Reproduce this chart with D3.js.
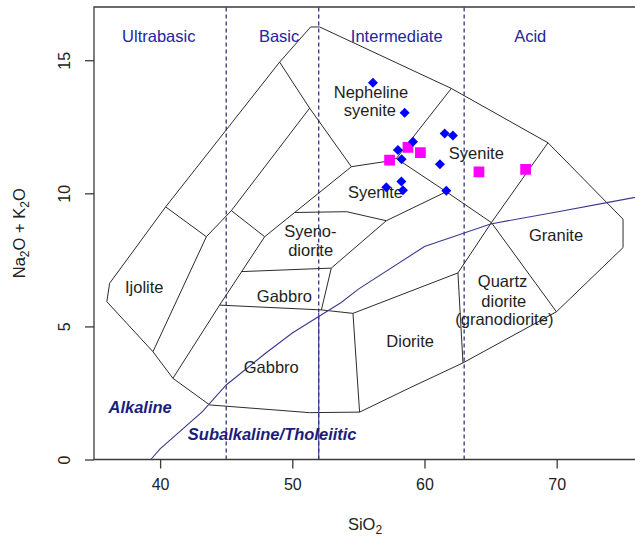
<!DOCTYPE html>
<html>
<head>
<meta charset="utf-8">
<script src="https://cdn.jsdelivr.net/npm/d3@7"></script>
<style>
  body { margin: 0; background: #fff; }
  svg { display: block; font-family: "Liberation Sans", Arial, sans-serif; }
</style>
</head>
<body>
<svg width="635" height="538"></svg>
<script>
// ---- data (SiO2 wt%, Na2O+K2O wt%) ----
var xTicks = [40, 50, 60, 70];
var yTicks = [0, 5, 10, 15];

// silica class limits (dashed)
var classLimits = [45, 52, 63];
var classNames = ["Ultrabasic", "Basic", "Intermediate", "Acid"];
var classX = [39.9, 49.0, 57.9, 68.0];
var classY = 15.68;

// outer outline of the plutonic TAS fields
var outline = [
    [51.39, 16.25], [52.07, 16.25], [62.03, 13.94], [69.34, 11.90], [75.02, 9.03],
    [75.02, 7.96], [69.98, 5.55], [62.91, 3.63], [58.88, 2.69], [55.09, 1.78],
    [51.31, 1.76], [43.75, 2.05], [40.97, 3.05], [39.46, 4.05], [35.97, 5.93],
    [36.18, 6.62], [40.42, 9.49], [49.04, 14.93], [51.39, 16.25]
];

// inner field boundaries
var fieldLines = [
    [[49.04, 14.93], [51.31, 13.20], [54.47, 11.00]],
    [[51.31, 13.20], [45.39, 9.35], [43.50, 8.37], [39.46, 4.05]],
    [[40.42, 9.49], [43.50, 8.37]],
    [[45.39, 9.35], [47.91, 8.37]],
    [[54.47, 11.00], [50.18, 9.28], [47.91, 8.37], [44.50, 5.80], [40.97, 3.05]],
    [[46.17, 7.06], [52.95, 7.19]],
    [[52.95, 7.19], [52.20, 5.62]],
    [[44.50, 5.80], [52.20, 5.62], [54.59, 5.49]],
    [[54.59, 5.49], [55.09, 1.78]],
    [[54.59, 5.49], [62.53, 7.01]],
    [[62.53, 7.01], [62.91, 3.63]],
    [[69.34, 11.90], [65.06, 8.90], [62.53, 7.01]],
    [[62.03, 13.94], [57.87, 11.31]],
    [[54.47, 11.00], [56.99, 11.19], [57.87, 11.31]],
    [[57.87, 11.31], [61.65, 10.06], [65.06, 8.90], [69.98, 5.55]],
    [[50.18, 9.28], [54.11, 9.31], [57.11, 8.97]],
    [[52.95, 7.19], [57.11, 8.97], [61.65, 10.06]]
];

// alkaline / subalkaline divide
var alkalineLine = [
    [39.3, 0], [40, 0.4], [43.2, 1.8], [45, 2.8], [48, 4.0], [50, 4.75],
    [53.7, 5.9], [55, 6.4], [60, 8.0], [65, 8.85], [70, 9.3], [73.8, 9.65], [77, 9.95]
];
var alkalineStem = [[52, 0], [52, 5.5]];

var fieldNames = ["Nepheline", "syenite", "Syenite", "Syenite", "Syeno-", "diorite",
    "Gabbro", "Gabbro", "Ijolite", "Diorite", "Granite", "Quartz", "diorite", "(granodiorite)"];
var fieldX = [55.95, 55.87, 63.92, 56.29, 51.37, 51.39, 49.40, 48.41, 38.80, 58.92, 69.95, 65.91, 66.0, 66.04];
var fieldY = [13.57, 12.90, 11.28, 9.81, 8.36, 7.66, 5.93, 3.24, 6.24, 4.21, 8.22, 6.47, 5.74, 5.05];

// samples: blue diamonds
var blueSiO2 = [56.10, 58.50, 59.13, 57.99, 58.27, 61.53, 62.15, 61.17, 57.11, 58.25, 58.37, 61.65];
var blueAlk = [14.15, 13.03, 11.94, 11.63, 11.28, 12.25, 12.17, 11.09, 10.23, 10.44, 10.12, 10.10];
// samples: magenta squares
var pinkSiO2 = [57.36, 58.75, 59.69, 64.12, 67.65];
var pinkAlk = [11.25, 11.73, 11.53, 10.81, 10.90];

// ---- drawing ----
var drawTAS = () => {
    var svg = d3.select('svg');
    var pl = 94, pt = 7, pr = 636, pb = 459.5;

    var x = d3.scaleLinear().domain([35, 76]).range([pl, pr]);
    var y = d3.scaleLinear().domain([0, 17]).range([pb, pt]);

    var line = d3.line().x(d => x(d[0])).y(d => y(d[1]));

    svg.append('clipPath').attr('id', 'plot')
        .append('rect').attr('x', pl).attr('y', pt)
        .attr('width', pr - pl).attr('height', pb - pt);

    var plot = svg.append('g').attr('clip-path', 'url(#plot)');

    // dashed silica limits
    plot.selectAll('.limit')
        .data(classLimits)
        .enter().append('line')
        .attr('x1', d => x(d)).attr('x2', d => x(d))
        .attr('y1', y(0)).attr('y2', y(17))
        .attr('stroke', '#23236e')
        .attr('stroke-width', 1.2)
        .attr('stroke-dasharray', '4,3');

    // field boundaries
    plot.append('path')
        .attr('d', line(outline))
        .attr('fill', 'none').attr('stroke', '#2b2b2b').attr('stroke-width', 1);

    plot.selectAll('.field')
        .data(fieldLines)
        .enter().append('path')
        .attr('d', d => line(d))
        .attr('fill', 'none').attr('stroke', '#2b2b2b').attr('stroke-width', 1);

    // alkaline divide
    plot.append('path')
        .attr('d', line(alkalineLine))
        .attr('fill', 'none').attr('stroke', '#3a3a8e').attr('stroke-width', 1.1);
    plot.append('path')
        .attr('d', line(alkalineStem))
        .attr('fill', 'none').attr('stroke', '#3a3a8e').attr('stroke-width', 1.1);

    // class labels
    plot.selectAll('.cls')
        .data(classNames)
        .enter().append('text')
        .attr('x', (d, i) => x(classX[i]))
        .attr('y', y(classY))
        .attr('text-anchor', 'middle')
        .attr('font-size', 16.5)
        .attr('fill', '#2424a0')
        .text(d => d);

    // field names
    plot.selectAll('.name')
        .data(fieldNames)
        .enter().append('text')
        .attr('x', (d, i) => x(fieldX[i]))
        .attr('y', (d, i) => y(fieldY[i]))
        .attr('text-anchor', 'middle')
        .attr('font-size', 16.5)
        .attr('fill', '#1e1e1e')
        .text(d => d);

    plot.append('text')
        .attr('x', x(38.49)).attr('y', y(1.76))
        .attr('text-anchor', 'middle')
        .attr('font-size', 16.5).attr('font-weight', 'bold').attr('font-style', 'italic')
        .attr('fill', '#1c1c80')
        .text('Alkaline');

    plot.append('text')
        .attr('x', x(42.1)).attr('y', y(0.73))
        .attr('font-size', 16.5).attr('font-weight', 'bold').attr('font-style', 'italic')
        .attr('fill', '#1c1c80')
        .text('Subalkaline/Tholeiitic');

    // samples
    plot.selectAll('.sq')
        .data(d3.range(pinkSiO2.length))
        .enter().append('path')
        .attr('d', d3.symbol().type(d3.symbolSquare).size(115))
        .attr('transform', i => 'translate(' + [x(pinkSiO2[i]), y(pinkAlk[i])] + ')')
        .attr('fill', '#ff00ff');

    plot.selectAll('.dm')
        .data(d3.range(blueSiO2.length))
        .enter().append('path')
        .attr('d', d3.symbol().type(d3.symbolSquare).size(50))
        .attr('transform', i => 'translate(' + [x(blueSiO2[i]), y(blueAlk[i])] + ') rotate(45)')
        .attr('fill', '#0000ff');

    // box
    svg.append('path')
        .attr('d', 'M' + pr + ',' + pt + 'H' + pl + 'V' + pb + 'H' + pr)
        .attr('fill', 'none').attr('stroke', '#3a3a3a').attr('stroke-width', 1.3);

    // axes
    var xAxis = d3.axisBottom(x).tickValues(xTicks).tickSize(9).tickPadding(10);
    var gx = svg.append('g')
        .attr('transform', 'translate(' + [0, pb] + ')')
        .call(xAxis);
    gx.select('.domain').remove();
    gx.selectAll('line').attr('stroke', '#3a3a3a').attr('stroke-width', 1.3);
    gx.selectAll('text')
        .attr('font-size', 16).attr('fill', '#222')
        .attr('font-family', '"Liberation Sans", Arial, sans-serif');

    var yAxis = d3.axisLeft(y).tickValues(yTicks).tickSize(9).tickFormat(d3.format('d'));
    var gy = svg.append('g')
        .attr('transform', 'translate(' + [pl, 0] + ')')
        .call(yAxis);
    gy.select('.domain').remove();
    gy.selectAll('line').attr('stroke', '#3a3a3a').attr('stroke-width', 1.3);
    gy.selectAll('text')
        .attr('font-size', 16).attr('fill', '#222')
        .attr('font-family', '"Liberation Sans", Arial, sans-serif')
        .attr('text-anchor', 'middle')
        .attr('x', 0).attr('dy', 0)
        .attr('transform', 'translate(-24,0) rotate(-90)');

    // axis titles
    var xt = svg.append('text')
        .attr('x', (pl + pr) / 2).attr('y', 530)
        .attr('text-anchor', 'middle')
        .attr('font-size', 16.5).attr('fill', '#222');
    xt.append('tspan').text('SiO');
    xt.append('tspan').attr('dy', 4).attr('font-size', 12).text('2');

    var yt = svg.append('text')
        .attr('transform', 'translate(25,' + ((pt + pb) / 2) + ') rotate(-90)')
        .attr('text-anchor', 'middle')
        .attr('font-size', 16.5).attr('fill', '#222');
    yt.append('tspan').text('Na');
    yt.append('tspan').attr('dy', 4).attr('font-size', 12).text('2');
    yt.append('tspan').attr('dy', -4).text('O + K');
    yt.append('tspan').attr('dy', 4).attr('font-size', 12).text('2');
    yt.append('tspan').attr('dy', -4).text('O');
};

drawTAS();
</script>
</body>
</html>
